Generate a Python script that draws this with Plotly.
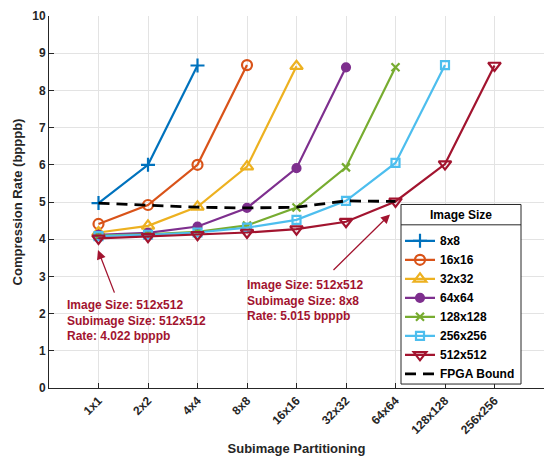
import plotly.graph_objects as go

cats = ['1x1', '2x2', '4x4', '8x8', '16x16', '32x32', '64x64', '128x128', '256x256']
names = ['8x8', '16x16', '32x32', '64x64', '128x128', '256x256', '512x512']
s8 = [4.97, 6.0, 8.67]
s16 = [4.41, 4.92, 6.0, 8.68]
s32 = [4.18, 4.36, 4.87, 5.95, 8.65]
s64 = [4.12, 4.17, 4.34, 4.84, 5.91, 8.62]
s128 = [4.10, 4.13, 4.20, 4.37, 4.85, 5.93, 8.62]
s256 = [4.08, 4.12, 4.18, 4.31, 4.52, 5.03, 6.05, 8.68]
s512 = [4.022, 4.07, 4.12, 4.18, 4.27, 4.47, 5.015, 6.02, 8.67]
fpga = [4.97, 4.92, 4.86, 4.84, 4.86, 5.03, 5.015]

series = [s8, s16, s32, s64, s128, s256, s512]
colors = ['#0072BD', '#D95319', '#EDB120', '#7E2F8E', '#77AC30', '#4DBEEE', '#A2142F']
symbols = ['cross-thin-open', 'circle-open', 'triangle-up-open', 'circle',
           'x-thin-open', 'square-open', 'triangle-down-open']
msizes = [10, 10, 11, 8, 8, 8, 11]

FONT = 'Liberation Sans, Arial, sans-serif'
TXT = '#262626'

fig = go.Figure()
for nm, vals, c, sym, ms in zip(names, series, colors, symbols, msizes):
    fig.add_trace(go.Scatter(
        x=cats[:len(vals)], y=vals, name=nm, mode='lines+markers',
        line=dict(color=c, width=2.2),
        marker=dict(symbol=sym, size=ms, color=c, line=dict(color=c, width=2.2)),
    ))
fig.add_trace(go.Scatter(
    x=cats[:len(fpga)], y=fpga, name='FPGA Bound', mode='lines',
    line=dict(color='black', width=2.8, dash='11px,7px'),
))

# plot area pixel geometry
L, R, T, B = 49, 544, 16, 391
W, H = R - L, B - T

def px(x):
    return (x - L) / W

def py(y):
    return (B - y) / H

BOX_T, BOX_B, HDR = 206, 387, 226.5
shapes = [
    dict(type='rect', xref='paper', yref='paper', x0=px(401), x1=px(521), y0=py(BOX_B), y1=py(BOX_T),
         fillcolor='white', line=dict(color=TXT, width=1), layer='above'),
    dict(type='line', xref='paper', yref='paper', x0=px(401), x1=px(521), y0=py(HDR), y1=py(HDR),
         line=dict(color=TXT, width=1), layer='above'),
]

red = '#A2142F'
annotations = [
    dict(xref='paper', yref='paper', x=px(65), y=py(322.7), xanchor='left', yanchor='middle',
         text='Image Size: 512x512<br>Subimage Size: 512x512<br>Rate: 4.022 bpppb',
         showarrow=False, align='left', font=dict(family=FONT, size=12, color=red, weight='bold')),
    dict(xref='paper', yref='paper', x=px(245), y=py(302.3), xanchor='left', yanchor='middle',
         text='Image Size: 512x512<br>Subimage Size: 8x8<br>Rate: 5.015 bpppb',
         showarrow=False, align='left', font=dict(family=FONT, size=12, color=red, weight='bold')),
    dict(xref='paper', yref='paper', x=px(98), y=py(252), text='', showarrow=True,
         ax=115 - 98, ay=296 - 252, arrowhead=2, arrowsize=1.4, arrowwidth=1.3, arrowcolor=red),
    dict(xref='paper', yref='paper', x=px(390), y=py(216), text='', showarrow=True,
         ax=332 - 390, ay=273 - 216, arrowhead=2, arrowsize=1.4, arrowwidth=1.3, arrowcolor=red),
    dict(xref='paper', yref='paper', x=px(461), y=py((BOX_T + HDR) / 2), text='Image Size', showarrow=False,
         xanchor='center', yanchor='middle', font=dict(family=FONT, size=12, color='black', weight='bold')),
]

fig.update_layout(
    width=544, height=456,
    margin=dict(l=L, r=544 - R, t=T, b=456 - B),
    paper_bgcolor='white', plot_bgcolor='white',
    font=dict(family=FONT, size=12, color=TXT, weight='bold'),
    showlegend=True,
    legend=dict(x=px(400), y=py(HDR + 1.5), xanchor='left', yanchor='top',
                bgcolor='rgba(0,0,0,0)', borderwidth=0, tracegroupgap=0,
                font=dict(family=FONT, size=12, color='black', weight='bold')),
    shapes=shapes,
    annotations=annotations,
    xaxis=dict(
        type='category', categoryorder='array', categoryarray=cats,
        range=[-1, 9], tickangle=-45, showgrid=True, gridcolor='#e3e3e3', gridwidth=1,
        showline=True, linecolor=TXT, linewidth=1, ticks='inside', ticklen=5, tickcolor=TXT,
        tickfont=dict(family=FONT, size=12, color=TXT, weight='bold'),
        title=dict(text='Subimage Partitioning', font=dict(family=FONT, size=13, color=TXT, weight='bold'),
                   standoff=10),
        zeroline=False,
    ),
    yaxis=dict(
        range=[0, 10], dtick=1, showgrid=True, gridcolor='#e3e3e3', gridwidth=1,
        showline=True, linecolor=TXT, linewidth=1, ticks='inside', ticklen=5, tickcolor=TXT,
        tickfont=dict(family=FONT, size=12, color=TXT, weight='bold'),
        title=dict(text='Compression Rate (bpppb)', font=dict(family=FONT, size=13, color=TXT, weight='bold'),
                   standoff=6),
        zeroline=False,
    ),
)

fig.write_html('out.html')
